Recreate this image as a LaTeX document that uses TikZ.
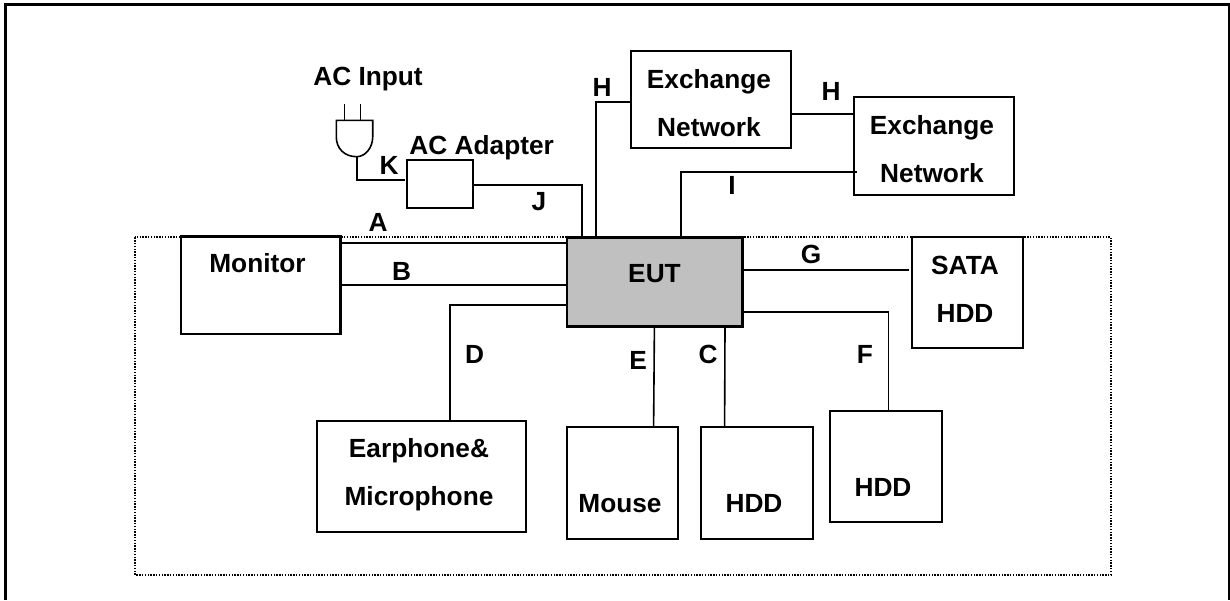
\documentclass[tikz,border=0pt]{standalone}
\usepackage{fontspec}
\setmainfont{Liberation Sans}
\tikzset{
  box/.style={draw=black,line width=1.4pt,fill=white,inner sep=0pt,outer sep=0pt,anchor=north west,align=center},
  wire/.style={draw=black,line width=1.2pt,line join=miter},
  lab/.style={font=\fontsize{19.7pt}{36pt}\selectfont\bfseries,inner sep=0pt,outer sep=0pt,align=center,anchor=base},
  dots/.style={draw=black,line width=1.3pt,dash pattern=on 1.05pt off 1.05pt}
}
\newcommand{\pbox}[6]{\node[box,minimum width=#3*0.75pt,minimum height=#4*0.75pt,#6] (#5) at (#1,#2) {};}
\begin{document}
\begin{tikzpicture}[x=0.75pt,y=-0.75pt]
\useasboundingbox (0,0) rectangle (1230,600);
\fill[white] (0,0) rectangle (1230,600);
\draw[black,line width=2pt] (5.3,600) -- (5.3,4.3) -- (1229.3,4.3) -- (1229.3,600);
\draw[dots] (135,237.3) rectangle (1111,574.7);
\pbox{181}{236.5}{159.5}{97.5}{mon}{line width=1.6pt}
\pbox{567}{237.5}{175.3}{89.2}{eut}{fill={rgb,255:red,192;green,192;blue,192},line width=1.9pt}
\pbox{911.7}{236.7}{111.6}{111.3}{sata}{}
\pbox{631.3}{50.7}{159.4}{97.6}{ex1}{}
\pbox{854.3}{97.3}{159.4}{98}{ex2}{}
\pbox{407}{160}{66}{48}{ada}{}
\pbox{317}{420.7}{208.6}{111.3}{ear}{}
\pbox{567.3}{427.3}{111.1}{111.4}{mou}{}
\pbox{700.7}{427.3}{111.9}{111.4}{hdda}{}
\pbox{830.3}{411}{111.5}{111.3}{hddb}{}
% plug
\coordinate (plugB) at (356.7,156.7);
\draw[wire] (336.3,120.3) -- (372.7,120.3) -- (372.7,137) .. controls (372.7,148) and (365,156.7) .. (plugB) .. controls (344,156.7) and (336.3,148) .. (336.3,137) -- cycle;
\coordinate (p1) at (344.3,104); \coordinate (p2) at (344.3,120.3);
\coordinate (p3) at (360.3,104); \coordinate (p4) at (360.3,120.3);
\draw[wire] (p1) -- (p2);
\draw[wire] (p3) -- (p4);
% connectors
\coordinate (a1) at (342,242.7); \coordinate (a2) at (567,242.7);
\coordinate (b1) at (340.5,285); \coordinate (b2) at (567,285);
\draw[wire,line width=1.6pt] (a1) -- (a2);
\draw[wire] (b1) -- (b2);
\coordinate (d2) at (567,305); \coordinate (d3) at (450,420.7);
\draw[wire] (d2) -| (d3);
\coordinate (e1) at (654.4,326.7); \coordinate (e2) at (653.6,427.3);
\draw[wire] (e1) -- (e2);
\coordinate (c1) at (725,326.7); \coordinate (c2) at (724.6,427.3);
\draw[wire] (c1) -- (c2);
\coordinate (f1) at (742.3,312); \coordinate (f2) at (888.5,411);
\draw[wire] (f1) -| (f2);
\coordinate (g1) at (742.3,270); \coordinate (g2) at (909,270);
\draw[wire] (g1) -- (g2);
\coordinate (i1) at (680.7,237.5); \coordinate (i2) at (856.7,171.7);
\draw[wire] (i1) |- (i2);
\coordinate (h1) at (596,237.5); \coordinate (h2) at (631.3,101.7);
\draw[wire] (h1) |- (h2);
\coordinate (h3) at (790.7,113.7); \coordinate (h4) at (854.3,113.7);
\draw[wire] (h3) -- (h4);
\coordinate (j1) at (473,185); \coordinate (j2) at (581.7,237.5);
\draw[wire] (j1) -| (j2);
\coordinate (k2) at (405.3,180);
\draw[wire] (plugB) |- (k2);
% labels
\node[lab] (tmon) at (257.5,272.7) {Monitor};
\node[lab] (teut) at (654.5,282.7) {EUT};
\node[lab] (tsata) at (965,322) {SATA\\HDD};
\node[lab] (tex1) at (709,136) {Exchange\\Network};
\node[lab] (tex2) at (932,182.7) {Exchange\\Network};
\node[lab] (tada) at (481.7,154) {AC Adapter};
\node[lab] (tac) at (368,85.7) {AC Input};
\node[lab] (tear) at (419,505.7) {Earphone\&\\Microphone};
\node[lab] (tmou) at (620,512) {Mouse};
\node[lab] (th1) at (754,512) {HDD};
\node[lab] (th2) at (883,496.7) {HDD};
\node[lab] (la) at (378,231.7) {A};
\node[lab] (lb) at (401.7,280) {B};
\node[lab] (lc) at (708,363.7) {C};
\node[lab] (ld) at (474.7,363.7) {D};
\node[lab] (le) at (638,369.7) {E};
\node[lab] (lf) at (865,363.7) {F};
\node[lab] (lg) at (811,263) {G};
\node[lab] (lh1) at (602,96.7) {H};
\node[lab] (lh2) at (831,100) {H};
\node[lab] (li) at (732,194) {I};
\node[lab] (lj) at (539,210.7) {J};
\node[lab] (lk) at (389,174.7) {K};
\end{tikzpicture}
\end{document}
